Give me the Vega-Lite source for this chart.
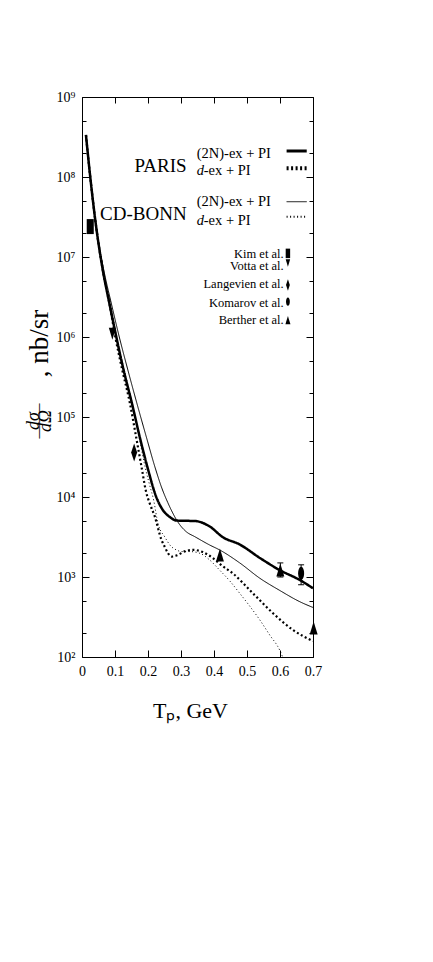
{
  "$schema": "https://vega.github.io/schema/vega-lite/v6.json",
  "width": 231,
  "height": 560,
  "autosize": {"type": "none"},
  "padding": {"left": 82, "top": 97, "right": 120, "bottom": 305},
  "background": "white",
  "config": {
    "view": {"stroke": "black", "strokeWidth": 1},
    "font": "Liberation Serif",
    "axis": {"labelFont": "Liberation Serif", "titleFont": "Liberation Serif", "titleFontWeight": "normal", "labelColor": "black", "titleColor": "black", "tickColor": "black", "tickWidth": 1, "domain": false, "grid": false, "labelOverlap": false, "labelFlush": false}
  },
  "datasets": {
    "curves": [
      {"curve": "PARIS 2N", "x": 0.012, "y": 335000000},
      {"curve": "PARIS 2N", "x": 0.026, "y": 91700000},
      {"curve": "PARIS 2N", "x": 0.043, "y": 23700000},
      {"curve": "PARIS 2N", "x": 0.063, "y": 6880000},
      {"curve": "PARIS 2N", "x": 0.084, "y": 2510000},
      {"curve": "PARIS 2N", "x": 0.104, "y": 1000000},
      {"curve": "PARIS 2N", "x": 0.126, "y": 387000},
      {"curve": "PARIS 2N", "x": 0.151, "y": 150000},
      {"curve": "PARIS 2N", "x": 0.175, "y": 56200},
      {"curve": "PARIS 2N", "x": 0.199, "y": 23000},
      {"curve": "PARIS 2N", "x": 0.225, "y": 10000},
      {"curve": "PARIS 2N", "x": 0.245, "y": 6880},
      {"curve": "PARIS 2N", "x": 0.266, "y": 5620},
      {"curve": "PARIS 2N", "x": 0.287, "y": 5080},
      {"curve": "PARIS 2N", "x": 0.315, "y": 5040},
      {"curve": "PARIS 2N", "x": 0.342, "y": 5010},
      {"curve": "PARIS 2N", "x": 0.387, "y": 4280},
      {"curve": "PARIS 2N", "x": 0.426, "y": 3160},
      {"curve": "PARIS 2N", "x": 0.478, "y": 2550},
      {"curve": "PARIS 2N", "x": 0.539, "y": 1730},
      {"curve": "PARIS 2N", "x": 0.599, "y": 1220},
      {"curve": "PARIS 2N", "x": 0.66, "y": 917},
      {"curve": "PARIS 2N", "x": 0.7, "y": 723},
      {"curve": "CD-BONN 2N", "x": 0.012, "y": 335000000},
      {"curve": "CD-BONN 2N", "x": 0.026, "y": 91700000},
      {"curve": "CD-BONN 2N", "x": 0.043, "y": 23700000},
      {"curve": "CD-BONN 2N", "x": 0.066, "y": 6880000},
      {"curve": "CD-BONN 2N", "x": 0.09, "y": 2510000},
      {"curve": "CD-BONN 2N", "x": 0.113, "y": 1000000},
      {"curve": "CD-BONN 2N", "x": 0.139, "y": 387000},
      {"curve": "CD-BONN 2N", "x": 0.166, "y": 150000},
      {"curve": "CD-BONN 2N", "x": 0.195, "y": 56200},
      {"curve": "CD-BONN 2N", "x": 0.222, "y": 23000},
      {"curve": "CD-BONN 2N", "x": 0.242, "y": 12900},
      {"curve": "CD-BONN 2N", "x": 0.26, "y": 8510},
      {"curve": "CD-BONN 2N", "x": 0.275, "y": 6310},
      {"curve": "CD-BONN 2N", "x": 0.287, "y": 5130},
      {"curve": "CD-BONN 2N", "x": 0.296, "y": 4520},
      {"curve": "CD-BONN 2N", "x": 0.316, "y": 3680},
      {"curve": "CD-BONN 2N", "x": 0.342, "y": 3190},
      {"curve": "CD-BONN 2N", "x": 0.387, "y": 2510},
      {"curve": "CD-BONN 2N", "x": 0.417, "y": 2180},
      {"curve": "CD-BONN 2N", "x": 0.478, "y": 1500},
      {"curve": "CD-BONN 2N", "x": 0.539, "y": 964},
      {"curve": "CD-BONN 2N", "x": 0.599, "y": 680},
      {"curve": "CD-BONN 2N", "x": 0.66, "y": 491},
      {"curve": "CD-BONN 2N", "x": 0.7, "y": 416},
      {"curve": "PARIS d", "x": 0.012, "y": 335000000},
      {"curve": "PARIS d", "x": 0.026, "y": 91700000},
      {"curve": "PARIS d", "x": 0.043, "y": 23700000},
      {"curve": "PARIS d", "x": 0.063, "y": 6880000},
      {"curve": "PARIS d", "x": 0.084, "y": 2510000},
      {"curve": "PARIS d", "x": 0.101, "y": 1000000},
      {"curve": "PARIS d", "x": 0.122, "y": 387000},
      {"curve": "PARIS d", "x": 0.145, "y": 150000},
      {"curve": "PARIS d", "x": 0.164, "y": 56200},
      {"curve": "PARIS d", "x": 0.181, "y": 23000},
      {"curve": "PARIS d", "x": 0.193, "y": 12200},
      {"curve": "PARIS d", "x": 0.207, "y": 7940},
      {"curve": "PARIS d", "x": 0.22, "y": 5790},
      {"curve": "PARIS d", "x": 0.241, "y": 2900},
      {"curve": "PARIS d", "x": 0.251, "y": 2370},
      {"curve": "PARIS d", "x": 0.26, "y": 2000},
      {"curve": "PARIS d", "x": 0.272, "y": 1800},
      {"curve": "PARIS d", "x": 0.29, "y": 1880},
      {"curve": "PARIS d", "x": 0.314, "y": 2110},
      {"curve": "PARIS d", "x": 0.339, "y": 2180},
      {"curve": "PARIS d", "x": 0.366, "y": 2050},
      {"curve": "PARIS d", "x": 0.396, "y": 1730},
      {"curve": "PARIS d", "x": 0.426, "y": 1370},
      {"curve": "PARIS d", "x": 0.457, "y": 1110},
      {"curve": "PARIS d", "x": 0.517, "y": 631},
      {"curve": "PARIS d", "x": 0.578, "y": 355},
      {"curve": "PARIS d", "x": 0.639, "y": 218},
      {"curve": "PARIS d", "x": 0.7, "y": 158},
      {"curve": "CD-BONN d", "x": 0.012, "y": 335000000},
      {"curve": "CD-BONN d", "x": 0.026, "y": 91700000},
      {"curve": "CD-BONN d", "x": 0.043, "y": 23700000},
      {"curve": "CD-BONN d", "x": 0.064, "y": 6880000},
      {"curve": "CD-BONN d", "x": 0.087, "y": 2510000},
      {"curve": "CD-BONN d", "x": 0.105, "y": 1000000},
      {"curve": "CD-BONN d", "x": 0.128, "y": 387000},
      {"curve": "CD-BONN d", "x": 0.152, "y": 150000},
      {"curve": "CD-BONN d", "x": 0.173, "y": 56200},
      {"curve": "CD-BONN d", "x": 0.192, "y": 23000},
      {"curve": "CD-BONN d", "x": 0.205, "y": 14100},
      {"curve": "CD-BONN d", "x": 0.217, "y": 9170},
      {"curve": "CD-BONN d", "x": 0.23, "y": 4730},
      {"curve": "CD-BONN d", "x": 0.251, "y": 3160},
      {"curve": "CD-BONN d", "x": 0.269, "y": 2440},
      {"curve": "CD-BONN d", "x": 0.286, "y": 2180},
      {"curve": "CD-BONN d", "x": 0.302, "y": 2080},
      {"curve": "CD-BONN d", "x": 0.326, "y": 2080},
      {"curve": "CD-BONN d", "x": 0.357, "y": 1980},
      {"curve": "CD-BONN d", "x": 0.387, "y": 1630},
      {"curve": "CD-BONN d", "x": 0.417, "y": 1220},
      {"curve": "CD-BONN d", "x": 0.448, "y": 891},
      {"curve": "CD-BONN d", "x": 0.478, "y": 625},
      {"curve": "CD-BONN d", "x": 0.508, "y": 434},
      {"curve": "CD-BONN d", "x": 0.539, "y": 290},
      {"curve": "CD-BONN d", "x": 0.569, "y": 188},
      {"curve": "CD-BONN d", "x": 0.599, "y": 122},
      {"curve": "CD-BONN d", "x": 0.608, "y": 100}
    ],
    "legendLines": [
      {"curve": "PARIS 2N", "x": 0.62, "y": 211000000},
      {"curve": "PARIS 2N", "x": 0.681, "y": 211000000},
      {"curve": "PARIS d", "x": 0.62, "y": 129000000},
      {"curve": "PARIS d", "x": 0.681, "y": 129000000},
      {"curve": "CD-BONN 2N", "x": 0.62, "y": 49100000},
      {"curve": "CD-BONN 2N", "x": 0.681, "y": 49100000},
      {"curve": "CD-BONN d", "x": 0.62, "y": 31900000},
      {"curve": "CD-BONN d", "x": 0.681, "y": 31900000}
    ],
    "points": [
      {"series": "Kim", "x": 0.025, "y": 24000000},
      {"series": "Votta", "x": 0.092, "y": 1100000},
      {"series": "Langevien", "x": 0.158, "y": 36000},
      {"series": "Komarov", "x": 0.664, "y": 1110},
      {"series": "Berther", "x": 0.418, "y": 1880},
      {"series": "Berther", "x": 0.601, "y": 1220},
      {"series": "Berther", "x": 0.702, "y": 230}
    ],
    "errors": [
      {"series": "Komarov", "x": 0.664, "lo": 800, "hi": 1420},
      {"series": "Berther", "x": 0.601, "lo": 1000, "hi": 1500}
    ],
    "legendMarkers": [
      {"series": "Kim", "x": 0.624, "y": 11100000},
      {"series": "Votta", "x": 0.624, "y": 8410000},
      {"series": "Langevien", "x": 0.624, "y": 4470000},
      {"series": "Komarov", "x": 0.624, "y": 2760000},
      {"series": "Berther", "x": 0.624, "y": 1630000}
    ],
    "legendText": [
      {"label": "Kim et al.", "x": 0.611, "y": 9800000},
      {"label": "Votta et al.", "x": 0.611, "y": 6880000},
      {"label": "Langevien et al.", "x": 0.611, "y": 4060000},
      {"label": "Komarov et al.", "x": 0.611, "y": 2390000},
      {"label": "Berther et al.", "x": 0.611, "y": 1450000}
    ],
    "modelText": [
      {"label": "PARIS", "x": 0.317, "y": 115500000},
      {"label": "CD-BONN", "x": 0.317, "y": 29000000}
    ],
    "smallText": [
      {"label": "(2N)-ex + PI", "x": 0.3476, "y": 173000000},
      {"label": "-ex + PI", "x": 0.369, "y": 106000000},
      {"label": "(2N)-ex + PI", "x": 0.3476, "y": 43400000},
      {"label": "-ex + PI", "x": 0.369, "y": 25100000}
    ],
    "italicText": [
      {"label": "d", "x": 0.3476, "y": 106000000},
      {"label": "d", "x": 0.3476, "y": 25100000}
    ],
    "yFraction": [
      {"label": "dσ", "x": -0.1464, "y": 89100},
      {"label": "dΩ", "x": -0.1082, "y": 89100}
    ],
    "yBar": [
      {"label": "——", "x": -0.132, "y": 89100}
    ]
  },
  "resolve": {"axis": {"x": "independent", "y": "independent"}},
  "layer": [
    {
      "data": {"name": "curves"},
      "mark": {"type": "line", "interpolate": "monotone", "clip": true, "color": "black"},
      "encoding": {
        "x": {"field": "x", "type": "quantitative", "scale": {"domain": [0, 0.7], "nice": false, "zero": false},
          "axis": {"orient": "bottom", "values": [0, 0.1, 0.2, 0.3, 0.4, 0.5, 0.6, 0.7], "tickSize": -7, "labelFontSize": 14, "labelPadding": 14,
            "labelExpr": "datum.value == 0 ? '0' : format(datum.value, '.1f')",
            "title": "Tₚ, GeV", "titleFontSize": 22, "titleX": 108, "titleY": 60, "titleBaseline": "alphabetic", "titleAlign": "center"}},
        "y": {"field": "y", "type": "quantitative", "scale": {"type": "log", "domain": [100, 1000000000], "nice": false},
          "axis": {"orient": "left", "values": [100, 1000, 10000, 100000, 1000000, 10000000, 100000000, 1000000000], "tickSize": -7, "labelFontSize": 14, "labelPadding": 14,
            "labelExpr": "'10' + ['⁰','¹','²','³','⁴','⁵','⁶','⁷','⁸','⁹'][round(log(datum.value)/LN10)]",
            "title": null}},
        "detail": {"field": "curve"},
        "strokeWidth": {"field": "curve", "type": "nominal", "scale": {"type": "ordinal", "domain": ["PARIS 2N", "PARIS d", "CD-BONN 2N", "CD-BONN d"], "range": [2.5, 2.2, 1, 1]}, "legend": null},
        "strokeDash": {"field": "curve", "type": "nominal", "scale": {"domain": ["PARIS 2N", "PARIS d", "CD-BONN 2N", "CD-BONN d"], "range": [[1, 0], [2, 2.5], [1, 0], [1, 2.5]]}, "legend": null}
      }
    },
    {
      "data": {"name": "legendLines"},
      "mark": {"type": "line", "color": "black"},
      "encoding": {
        "x": {"field": "x", "type": "quantitative", "axis": null},
        "y": {"field": "y", "type": "quantitative", "axis": null},
        "detail": {"field": "curve"},
        "strokeWidth": {"field": "curve", "type": "nominal", "legend": null},
        "strokeDash": {"field": "curve", "type": "nominal", "legend": null}
      }
    },
    {
      "data": {"name": "points"},
      "mark": {"type": "point", "filled": true, "color": "black", "opacity": 1, "size": 225},
      "encoding": {
        "x": {"field": "x", "type": "quantitative", "axis": {"orient": "top", "values": [0, 0.1, 0.2, 0.3, 0.4, 0.5, 0.6, 0.7], "tickSize": -6, "labels": false, "title": null}},
        "y": {"field": "y", "type": "quantitative", "axis": {"orient": "right", "values": [100, 1000, 10000, 100000, 1000000, 10000000, 100000000, 1000000000], "tickSize": -7, "labels": false, "title": null}},
        "shape": {"field": "series", "type": "nominal", "legend": null, "scale": {"domain": ["Kim", "Votta", "Langevien", "Komarov", "Berther"],
          "range": ["M-0.47,-1H0.47V1H-0.47Z", "M-0.47,-0.8L0.47,-0.8L0,0.8Z", "M0,-1.2L0.4,0L0,1.2L-0.4,0Z", "M0,-0.87A0.4,0.87,0,1,1,0,0.87A0.4,0.87,0,1,1,0,-0.87Z", "M0,-0.87L0.53,0.87L-0.53,0.87Z"]}}
      }
    },
    {
      "data": {"name": "errors"},
      "mark": {"type": "rule", "color": "black", "strokeWidth": 1},
      "encoding": {
        "x": {"field": "x", "type": "quantitative", "axis": null},
        "y": {"field": "lo", "type": "quantitative", "axis": {"orient": "left", "values": [200, 500, 2000, 5000, 20000, 50000, 200000, 500000, 2000000, 5000000, 20000000, 50000000, 200000000, 500000000], "tickSize": -4, "labels": false,
          "title": ",   nb/sr", "titleFontSize": 27, "titleAngle": 270, "titleX": -35, "titleY": 246, "titleBaseline": "alphabetic", "titleAlign": "center"}},
        "y2": {"field": "hi"}
      }
    },
    {
      "data": {"name": "errors"},
      "transform": [{"fold": ["lo", "hi"], "as": ["end", "value"]}],
      "mark": {"type": "point", "shape": "stroke", "color": "black", "strokeWidth": 1, "size": 36, "filled": false, "opacity": 1},
      "encoding": {
        "x": {"field": "x", "type": "quantitative", "axis": null},
        "y": {"field": "value", "type": "quantitative", "axis": {"orient": "right", "values": [200, 500, 2000, 5000, 20000, 50000, 200000, 500000, 2000000, 5000000, 20000000, 50000000, 200000000, 500000000], "tickSize": -4, "labels": false, "title": null}}
      }
    },
    {
      "data": {"name": "legendMarkers"},
      "mark": {"type": "point", "filled": true, "color": "black", "opacity": 1, "size": 90},
      "encoding": {
        "x": {"field": "x", "type": "quantitative", "axis": null},
        "y": {"field": "y", "type": "quantitative", "axis": null},
        "shape": {"field": "series", "type": "nominal", "legend": null}
      }
    },
    {
      "data": {"name": "legendText"},
      "mark": {"type": "text", "align": "right", "baseline": "alphabetic", "fontSize": 12.5, "font": "Liberation Serif", "color": "black"},
      "encoding": {
        "x": {"field": "x", "type": "quantitative", "axis": null},
        "y": {"field": "y", "type": "quantitative", "axis": null},
        "text": {"field": "label"}
      }
    },
    {
      "data": {"name": "modelText"},
      "mark": {"type": "text", "align": "right", "baseline": "alphabetic", "fontSize": 19, "font": "Liberation Serif", "color": "black"},
      "encoding": {
        "x": {"field": "x", "type": "quantitative", "axis": null},
        "y": {"field": "y", "type": "quantitative", "axis": null},
        "text": {"field": "label"}
      }
    },
    {
      "data": {"name": "smallText"},
      "mark": {"type": "text", "align": "left", "baseline": "alphabetic", "fontSize": 14.5, "font": "Liberation Serif", "color": "black"},
      "encoding": {
        "x": {"field": "x", "type": "quantitative", "axis": null},
        "y": {"field": "y", "type": "quantitative", "axis": null},
        "text": {"field": "label"}
      }
    },
    {
      "data": {"name": "italicText"},
      "mark": {"type": "text", "align": "left", "baseline": "alphabetic", "fontSize": 14.5, "fontStyle": "italic", "font": "Liberation Serif", "color": "black"},
      "encoding": {
        "x": {"field": "x", "type": "quantitative", "axis": null},
        "y": {"field": "y", "type": "quantitative", "axis": null},
        "text": {"field": "label"}
      }
    },
    {
      "data": {"name": "yFraction"},
      "mark": {"type": "text", "align": "center", "baseline": "middle", "angle": 270, "fontSize": 18, "fontStyle": "italic", "font": "Liberation Serif", "color": "black", "clip": false},
      "encoding": {
        "x": {"field": "x", "type": "quantitative", "axis": null},
        "y": {"field": "y", "type": "quantitative", "axis": null},
        "text": {"field": "label"}
      }
    },
    {
      "data": {"name": "yBar"},
      "mark": {"type": "text", "align": "center", "baseline": "middle", "angle": 270, "fontSize": 17.5, "font": "Liberation Serif", "color": "black", "clip": false},
      "encoding": {
        "x": {"field": "x", "type": "quantitative", "axis": null},
        "y": {"field": "y", "type": "quantitative", "axis": null},
        "text": {"field": "label"}
      }
    }
  ]
}
